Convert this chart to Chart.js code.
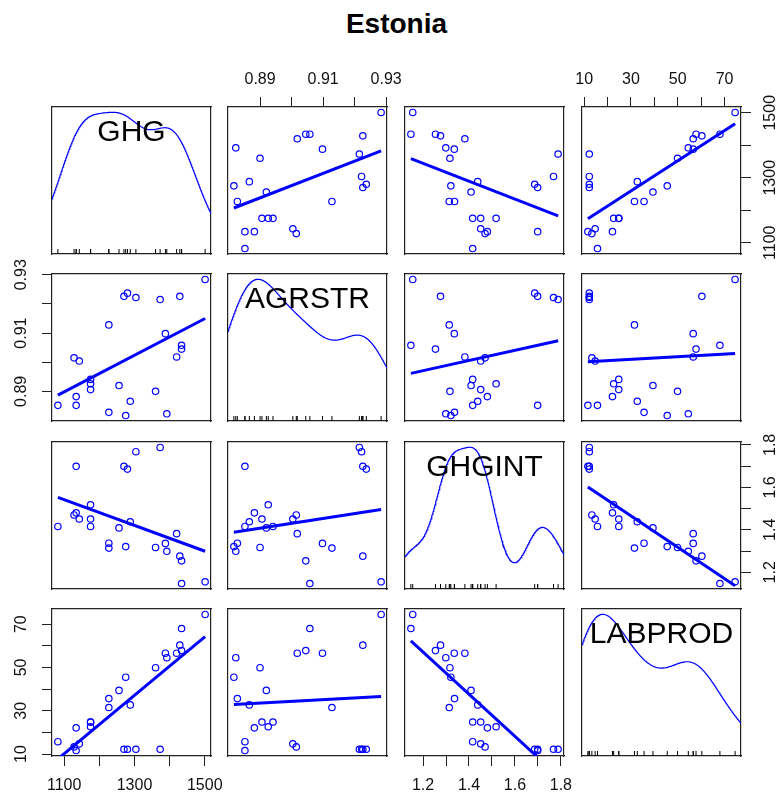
<!DOCTYPE html>
<html><head><meta charset="utf-8">
<script src="https://cdn.jsdelivr.net/npm/chart.js@4/dist/chart.umd.min.js"></script>
<style>
html,body{margin:0;padding:0;background:#fff}
body{width:778px;height:796px;position:relative;overflow:hidden;font-family:"Liberation Sans",Arial,sans-serif}
#title{position:absolute;left:0;width:793px;top:7px;text-align:center;font-weight:bold;font-size:28px;color:#000;line-height:34px}
canvas{position:absolute}
</style></head><body>
<div id="title">Estonia</div>
<script>
// ---- data ----
const variables = ['GHG','AGRSTR','GHGINT','LABPROD'];
const GHG     = [1501,1434,1434,1429,1420,1392,1388,1373,1360,1304,1288,1280,1275,1270,1256,1227,1227,1175,1175,1175,1143,1134,1134,1128,1082];
const AGRSTR  = [0.9284,0.9058,0.9045,0.9226,0.9018,0.8823,0.9098,0.9215,0.8900,0.9222,0.8866,0.9237,0.8817,0.9226,0.8920,0.8828,0.9128,0.8906,0.8926,0.8941,0.9004,0.8852,0.8882,0.9015,0.8852];
const GHGINT  = [1.155,1.147,1.254,1.276,1.382,1.299,1.336,1.788,1.317,1.768,1.438,1.686,1.321,1.699,1.409,1.337,1.314,1.451,1.518,1.416,1.451,1.699,1.480,1.470,1.416];
const LABPROD = [74.5,68.0,57.8,60.3,56.6,54.5,56.6,12.2,49.9,12.2,32.7,12.2,45.5,12.2,39.4,35.6,31.5,24.8,22.6,24.8,14.7,11.6,22.1,13.3,15.7];

const ghgTicks = [1100,1200,1300,1400,1500];
const ghgTickLabels = [1100,1300,1500];
const agrTicks = [0.89,0.90,0.91,0.92,0.93];
const agrTickLabels = [0.89,0.91,0.93];
const intTicks = [1.2,1.3,1.4,1.5,1.6,1.7,1.8];
const intTickLabels = [1.2,1.4,1.6,1.8];
const labTicks = [10,20,30,40,50,60,70];
const labTickLabels = [10,30,50,70];

// ---- layout ----
const M = 50;
const colLeft = [52, 228, 405, 582];
const rowTop = [107, 274, 442, 609];
const PW = 159, PH = 147;
const BLUE = '#0000FF';
const FONT = '"Liberation Sans", Arial, sans-serif';

const series = {GHG, AGRSTR, GHGINT, LABPROD};
const tickSet = {GHG: ghgTicks, AGRSTR: agrTicks, GHGINT: intTicks, LABPROD: labTicks};
const labelSet = {GHG: ghgTickLabels, AGRSTR: agrTickLabels, GHGINT: intTickLabels, LABPROD: labTickLabels};

function extRange(a){ const lo=Math.min(...a), hi=Math.max(...a), r=hi-lo; return [lo-0.04*r, hi+0.04*r]; }
function quantile(s,p){ const h=(s.length-1)*p, l=Math.floor(h); return s[l]+(h-l)*(s[Math.min(l+1,s.length-1)]-s[l]); }
function bwNrd0(x){
  const n=x.length, mean=x.reduce((a,b)=>a+b,0)/n;
  const sd=Math.sqrt(x.reduce((a,b)=>a+(b-mean)*(b-mean),0)/(n-1));
  const s=[...x].sort((a,b)=>a-b);
  const iqr=(quantile(s,0.75)-quantile(s,0.25))/1.34;
  let lo=Math.min(sd,iqr); if(!(lo>0)) lo=sd||Math.abs(s[0])||1;
  return 0.9*lo*Math.pow(n,-0.2);
}
function dnorm(z){ return Math.exp(-z*z/2)/Math.sqrt(2*Math.PI); }
// Gaussian kernel density (like R's density(), bw.nrd0, cut = 3, n = 512)
function kde(x){
  const bw=bwNrd0(x), n=x.length, N=512;
  const from=Math.min(...x)-3*bw, to=Math.max(...x)+3*bw;
  const out=[];
  for(let i=0;i<N;i++){
    const x0=from+(to-from)*i/(N-1); let p=0;
    for(let j=0;j<n;j++) p+=dnorm((x0-x[j])/bw);
    out.push({x:x0,y:p/(n*bw)});
  }
  return out;
}
function densityCurve(x){
  const d=kde(x);
  const ys=d.map(p=>p.y), dmin=Math.min(...ys), dmax=Math.max(...ys);
  const lo=Math.min(...x), r=Math.max(...x)-lo;
  return d.map(p=>({x:p.x, y: lo + p.y*r/(dmax-dmin)}));
}
function lmLine(x,y){
  const n=x.length, mx=x.reduce((a,b)=>a+b,0)/n, my=y.reduce((a,b)=>a+b,0)/n;
  let sxy=0,sxx=0; for(let i=0;i<n;i++){ sxy+=(x[i]-mx)*(y[i]-my); sxx+=(x[i]-mx)*(x[i]-mx); }
  const b=sxy/sxx, a=my-b*mx, x0=Math.min(...x), x1=Math.max(...x);
  return [{x:x0,y:a+b*x0},{x:x1,y:a+b*x1}];
}
function fmt(v){ return String(Math.round(v*10000)/10000); }
function isLabel(list,v){ return list.some(l=>Math.abs(l-v)<1e-9); }

const rPlugin = {
  id:'rExtras',
  afterDraw(chart, args, opts){
    const ctx=chart.ctx, ca=chart.chartArea;
    ctx.save();
    ctx.font='16px '+FONT; ctx.fillStyle='#111'; ctx.textAlign='center'; ctx.textBaseline='middle';
    ['y','y2'].forEach(id=>{
      const vals=opts[id]; if(!vals) return;
      const s=chart.scales[id];
      vals.forEach(v=>{
        const py=s.getPixelForValue(v);
        const px= id==='y' ? ca.left-30 : ca.right+30;
        ctx.save(); ctx.translate(px,py); ctx.rotate(-Math.PI/2); ctx.fillText(fmt(v),0,0); ctx.restore();
      });
    });
    if(opts.diagLabel){
      ctx.font='30px '+FONT; ctx.fillStyle='#000';
      ctx.fillText(opts.diagLabel,(ca.left+ca.right)/2,ca.top+26);
    }
    ctx.restore();
  }
};

function axis(position, range, v, showTicks, showLabels){
  const horiz = position==='top'||position==='bottom';
  return {
    type:'linear', position, axis: horiz?'x':'y', min:range[0], max:range[1],
    afterBuildTicks: s=>{ s.ticks=tickSet[v].map(t=>({value:t})); },
    afterFit: s=>{ if(horiz) s.height=M; else s.width=M; s.paddingLeft=s.paddingRight=s.paddingTop=s.paddingBottom=0; },
    border:{display:true,color:'#222',width:1.2},
    grid:{display:showTicks,drawOnChartArea:false,drawTicks:showTicks,tickLength:10,tickColor:'#222',color:'#222',lineWidth:1},
    ticks:{display: horiz && showLabels, autoSkip:false, maxRotation:0, minRotation:0,
      padding: position==='top'?8:10, color:'#111', font:{family:FONT,size:16},
      callback:(val)=> isLabel(labelSet[v],val)? fmt(val) : ''}
  };
}

for(let r=0;r<4;r++){
  for(let c=0;c<4;c++){
    const vx=variables[c], vy=variables[r];
    const xr=extRange(series[vx]), yr=extRange(series[vy]);
    const cv=document.createElement('canvas');
    cv.width=PW+2*M; cv.height=PH+2*M;
    cv.style.left=(colLeft[c]-M)+'px'; cv.style.top=(rowTop[r]-M)+'px';
    cv.style.width=(PW+2*M)+'px'; cv.style.height=(PH+2*M)+'px';
    document.body.appendChild(cv);
    const datasets=[];
    const opts={};
    if(r===c){
      datasets.push({type:'scatter',data:densityCurve(series[vx]),showLine:true,borderColor:BLUE,borderWidth:1.2,pointRadius:0,tension:0});
      datasets.push({type:'scatter',data:series[vx].map(v=>({x:v,y:yr[0]})),pointStyle:'line',rotation:90,pointRadius:5,borderColor:'#000',borderWidth:1,showLine:false});
      opts.diagLabel=vx;
    } else {
      const xs=series[vx], ys=series[vy];
      datasets.push({type:'scatter',data:xs.map((v,i)=>({x:v,y:ys[i]})),pointStyle:'circle',pointRadius:3.2,borderColor:BLUE,backgroundColor:'rgba(0,0,0,0)',borderWidth:1.2});
      datasets.push({type:'scatter',data:lmLine(xs,ys),showLine:true,borderColor:BLUE,borderWidth:3,pointRadius:0});
    }
    const showBottom = r===3 && (c===0||c===2);
    const showTop = r===0 && (c===1||c===3);
    const showLeft = c===0 && (r===1||r===3);
    const showRight = c===3 && (r===0||r===2);
    if(showLeft) opts.y=labelSet[vy];
    if(showRight) opts.y2=labelSet[vy];
    new Chart(cv,{
      type:'scatter',
      data:{datasets},
      options:{
        responsive:false, animation:false, events:[],
        layout:{padding:0},
        plugins:{legend:{display:false},tooltip:{enabled:false},title:{display:false},rExtras:opts},
        scales:{
          x: axis('bottom',xr,vx,showBottom,showBottom),
          x2: axis('top',xr,vx,showTop,showTop),
          y: axis('left',yr,vy,showLeft,false),
          y2: axis('right',yr,vy,showRight,false)
        }
      },
      plugins:[rPlugin]
    });
  }
}
</script>
</body></html>
